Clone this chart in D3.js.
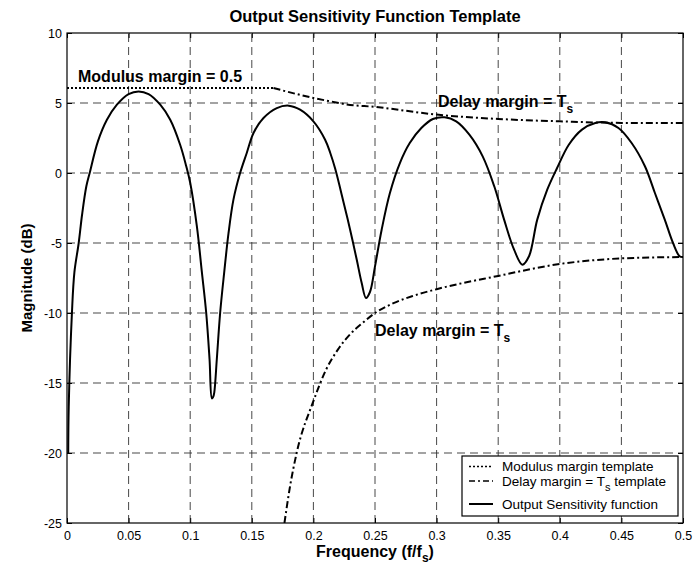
<!DOCTYPE html>
<html>
<head>
<meta charset="utf-8">
<script src="https://cdn.jsdelivr.net/npm/d3@7"></script>
<style>
  html, body { margin: 0; padding: 0; background: #fff; }
  svg text { font-family: Arial, "Liberation Sans", sans-serif; fill: #000; }
</style>
</head>
<body>
<svg id="chart" width="693" height="566"></svg>
<script>
// Output sensitivity function |Syp| (dB) versus normalized frequency f/fs
const sensFreq = [0.001, 0.0014, 0.004, 0.006, 0.0095, 0.0122, 0.0157, 0.0184, 0.0251, 0.0324, 0.0405, 0.05, 0.0581, 0.0662, 0.0757, 0.0838, 0.0919, 0.0968, 0.1, 0.1054, 0.1095, 0.113, 0.1157, 0.1176, 0.1186, 0.1195, 0.1216, 0.1243, 0.1276, 0.1311, 0.1351, 0.1405, 0.1459, 0.1514, 0.1595, 0.1703, 0.18, 0.1892, 0.2, 0.2095, 0.2137, 0.2177, 0.2245, 0.2298, 0.2352, 0.2392, 0.2427, 0.2459, 0.25, 0.2554, 0.2621, 0.2702, 0.2782, 0.2876, 0.297, 0.3065, 0.3159, 0.3266, 0.3374, 0.3468, 0.3548, 0.3629, 0.3696, 0.375, 0.3817, 0.3898, 0.3978, 0.4073, 0.418, 0.4288, 0.4368, 0.4476, 0.4583, 0.4691, 0.4772, 0.4852, 0.4919, 0.4973, 0.5];
const sensDb   = [-20, -16.7, -10, -7.1, -5, -3, -0.95, 0, 2.26, 3.8, 4.88, 5.64, 5.83, 5.64, 4.88, 3.8, 2.0, 0.48, -0.7, -3.8, -7.1, -10, -13.3, -16.1, -16.0, -15.7, -13.3, -10, -7.1, -4.3, -1.9, 0, 1.43, 2.86, 3.93, 4.64, 4.81, 4.52, 3.69, 2.38, 1.43, 0.3, -2.1, -4.05, -6.2, -7.86, -8.93, -8.5, -6.67, -4.05, -1.43, 0.71, 2.14, 3.21, 3.86, 3.98, 3.69, 2.74, 1.19, -0.95, -3.33, -5.48, -6.55, -5.95, -3.33, -1.19, 0.36, 2.02, 3.1, 3.57, 3.62, 3.21, 2.14, 0.48, -1.43, -3.33, -5, -5.95, -6.0];

// Modulus margin template (0.5 -> 6 dB)
const modFreq = [0, 0.1676];
const modDb   = [6.07, 6.07];

// Delay margin = Ts template, upper bound
const delayUpFreq = [0.1676, 0.2, 0.2137, 0.227, 0.25, 0.3, 0.35, 0.4, 0.45, 0.5];
const delayUpDb   = [6.07, 5.36, 5.12, 4.9, 4.72, 4.17, 3.86, 3.69, 3.58, 3.57];

// Delay margin = Ts template, lower bound
const delayLoFreq = [0.1765, 0.181, 0.1864, 0.2, 0.21, 0.22, 0.23, 0.24, 0.25, 0.265, 0.28, 0.3, 0.35, 0.4, 0.45, 0.5];
const delayLoDb   = [-25, -22.4, -20, -16.3, -14.1, -12.6, -11.5, -10.7, -10.0, -9.3, -8.8, -8.3, -7.35, -6.5, -6.1, -6.0];

const xTicks = [0, 0.05, 0.1, 0.15, 0.2, 0.25, 0.3, 0.35, 0.4, 0.45, 0.5];
const yTicks = [-25, -20, -15, -10, -5, 0, 5, 10];

const legendLabels = ["Modulus margin template", "Delay margin = T|s| template", "Output Sensitivity function"];

const margin = { left: 67, right: 10, top: 33, bottom: 43 };
const W = 693, H = 566;
const svg = d3.select("#chart");

const x = d3.scaleLinear().domain([0, 0.5]).range([margin.left, W - margin.right]);
const y = d3.scaleLinear().domain([-25, 10]).range([H - margin.bottom, margin.top]);

const x0 = x.range()[0], x1 = x.range()[1], y0 = y.range()[0], y1 = y.range()[1];

svg.append("defs").append("clipPath").attr("id", "plotClip")
  .append("rect").attr("x", x0).attr("y", y1).attr("width", x1 - x0).attr("height", y0 - y1);

// dashed grid
const grid = svg.append("g").attr("stroke", "#111").attr("stroke-width", 0.9)
  .attr("stroke-dasharray", "8,5").attr("opacity", 0.85);
xTicks.slice(1, -1).forEach(t => {
  grid.append("line").attr("x1", x(t)).attr("x2", x(t)).attr("y1", y0).attr("y2", y1);
});
yTicks.slice(1, -1).forEach(t => {
  grid.append("line").attr("x1", x0).attr("x2", x1).attr("y1", y(t)).attr("y2", y(t));
});

// axes with inward ticks on all four sides
const fmt = d => String(d);
const axB = d3.axisBottom(x).tickValues(xTicks).tickSizeInner(-5).tickSizeOuter(0).tickPadding(8).tickFormat(fmt);
const axT = d3.axisTop(x).tickValues(xTicks).tickSizeInner(-5).tickSizeOuter(0).tickFormat("");
const axL = d3.axisLeft(y).tickValues(yTicks).tickSizeInner(-5).tickSizeOuter(0).tickPadding(5).tickFormat(fmt);
const axR = d3.axisRight(y).tickValues(yTicks).tickSizeInner(-5).tickSizeOuter(0).tickFormat("");

function styleAxis(g) {
  g.select(".domain").remove();
  g.selectAll("line").attr("stroke", "#000");
  g.selectAll("text").attr("font-size", 12.5).attr("font-family", "Arial, 'Liberation Sans', sans-serif").attr("fill", "#000");
}
svg.append("g").attr("transform", `translate(0,${y0})`).call(axB).call(styleAxis);
svg.append("g").attr("transform", `translate(0,${y1})`).call(axT).call(styleAxis);
svg.append("g").attr("transform", `translate(${x0},0)`).call(axL).call(styleAxis);
svg.append("g").attr("transform", `translate(${x1},0)`).call(axR).call(styleAxis);

svg.append("rect").attr("x", x0).attr("y", y1).attr("width", x1 - x0).attr("height", y0 - y1)
  .attr("fill", "none").attr("stroke", "#000").attr("stroke-width", 1.2);

// curves
const plot = svg.append("g").attr("clip-path", "url(#plotClip)");
const lineOf = (fs, ds, curve) => d3.line().x((d, i) => x(fs[i])).y((d, i) => y(ds[i])).curve(curve)(fs);

plot.append("path").attr("d", lineOf(modFreq, modDb, d3.curveLinear))
  .attr("fill", "none").attr("stroke", "#000").attr("stroke-width", 2).attr("stroke-dasharray", "2,2");
plot.append("path").attr("d", lineOf(delayUpFreq, delayUpDb, d3.curveMonotoneX))
  .attr("fill", "none").attr("stroke", "#000").attr("stroke-width", 2).attr("stroke-dasharray", "7,3,2,3");
plot.append("path").attr("d", lineOf(delayLoFreq, delayLoDb, d3.curveMonotoneX))
  .attr("fill", "none").attr("stroke", "#000").attr("stroke-width", 2).attr("stroke-dasharray", "7,3,2,3");
plot.append("path").attr("d", lineOf(sensFreq, sensDb, d3.curveCatmullRom.alpha(0.5)))
  .attr("fill", "none").attr("stroke", "#000").attr("stroke-width", 2).attr("stroke-linejoin", "round");

// annotations
svg.append("text").attr("x", 78).attr("y", 82).attr("font-size", 16).attr("font-weight", "bold")
  .text("Modulus margin = 0.5");

function delayLabel(px, py) {
  const t = svg.append("text").attr("x", px).attr("y", py).attr("font-size", 16).attr("font-weight", "bold");
  t.append("tspan").text("Delay margin = T");
  t.append("tspan").attr("dy", 6).attr("font-size", 12).text("s");
}
delayLabel(438, 106.5);
delayLabel(375, 336);

// title and axis labels
svg.append("text").attr("x", (x0 + x1) / 2).attr("y", 22).attr("text-anchor", "middle")
  .attr("font-size", 16.5).attr("font-weight", "bold").text("Output Sensitivity Function Template");

const xl = svg.append("text").attr("x", (x0 + x1) / 2).attr("y", 557).attr("text-anchor", "middle")
  .attr("font-size", 16).attr("font-weight", "bold");
xl.append("tspan").text("Frequency (f/f");
xl.append("tspan").attr("dy", 5).attr("font-size", 12).text("s");
xl.append("tspan").attr("dy", -5).text(")");

svg.append("text").attr("transform", `translate(32,${(y0 + y1) / 2}) rotate(-90)`)
  .attr("text-anchor", "middle").attr("font-size", 15).attr("font-weight", "bold").text("Magnitude (dB)");

// legend
const lg = svg.append("g");
lg.append("rect").attr("x", 462).attr("y", 456).attr("width", 216).attr("height", 60)
  .attr("fill", "#fff").attr("stroke", "#000").attr("stroke-width", 1.2);
const dashes = ["2,2", "6,3,2,3", null];
const rowY = [466.5, 481, 504];
legendLabels.forEach((lab, i) => {
  const ln = lg.append("line").attr("x1", 469).attr("x2", 493).attr("y1", rowY[i]).attr("y2", rowY[i])
    .attr("stroke", "#000").attr("stroke-width", i === 2 ? 2 : 1.6);
  if (dashes[i]) ln.attr("stroke-dasharray", dashes[i]);
  const t = lg.append("text").attr("x", 502).attr("y", rowY[i] + 4.5).attr("font-size", 13.5);
  const parts = lab.split("|");
  if (parts.length === 3) {
    t.append("tspan").text(parts[0]);
    t.append("tspan").attr("dy", 5).attr("font-size", 11).text(parts[1]);
    t.append("tspan").attr("dy", -5).text(parts[2]);
  } else {
    t.text(lab);
  }
});
</script>
</body>
</html>
